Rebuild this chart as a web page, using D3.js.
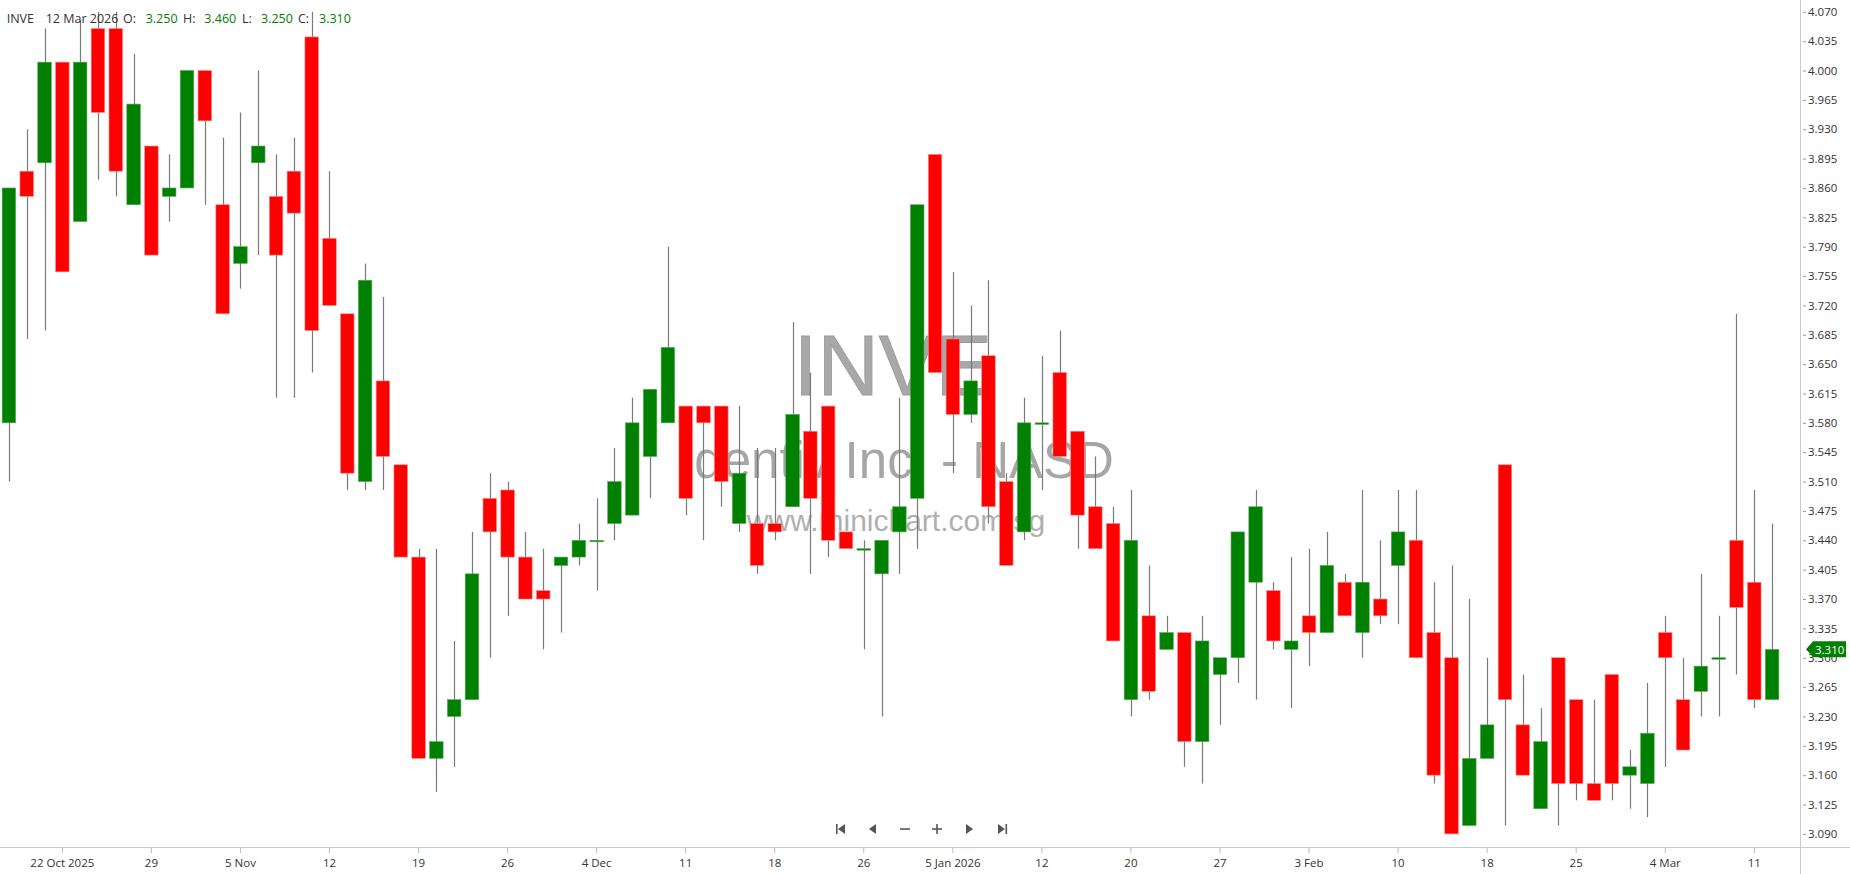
<!DOCTYPE html>
<html>
<head>
<meta charset="utf-8">
<script src="https://cdn.jsdelivr.net/npm/d3@7"></script>
<style>
  html, body { margin: 0; padding: 0; background: #fff; }
  svg { display: block; }
  text { font-family: "Open Sans", "Noto Sans", sans-serif; }
</style>
</head>
<body>
<script>
// ---- data ----
const symbol = "INVE";
const companyName = "Identiv Inc. - NASD";
const siteUrl = "www.minichart.com.sg";
const dates = [
  "2025-10-17",
  "2025-10-20","2025-10-21","2025-10-22","2025-10-23","2025-10-24",
  "2025-10-27","2025-10-28","2025-10-29","2025-10-30","2025-10-31",
  "2025-11-03","2025-11-04","2025-11-05","2025-11-06","2025-11-07",
  "2025-11-10","2025-11-11","2025-11-12","2025-11-13","2025-11-14",
  "2025-11-17","2025-11-18","2025-11-19","2025-11-20","2025-11-21",
  "2025-11-24","2025-11-25","2025-11-26","2025-11-28",
  "2025-12-01","2025-12-02","2025-12-03","2025-12-04","2025-12-05",
  "2025-12-08","2025-12-09","2025-12-10","2025-12-11","2025-12-12",
  "2025-12-15","2025-12-16","2025-12-17","2025-12-18","2025-12-19",
  "2025-12-22","2025-12-23","2025-12-24","2025-12-26",
  "2025-12-29","2025-12-30","2025-12-31","2026-01-02",
  "2026-01-05","2026-01-06","2026-01-07","2026-01-08","2026-01-09",
  "2026-01-12","2026-01-13","2026-01-14","2026-01-15","2026-01-16",
  "2026-01-20","2026-01-21","2026-01-22","2026-01-23",
  "2026-01-26","2026-01-27","2026-01-28","2026-01-29","2026-01-30",
  "2026-02-02","2026-02-03","2026-02-04","2026-02-05","2026-02-06",
  "2026-02-09","2026-02-10","2026-02-11","2026-02-12","2026-02-13",
  "2026-02-17","2026-02-18","2026-02-19","2026-02-20",
  "2026-02-23","2026-02-24","2026-02-25","2026-02-26","2026-02-27",
  "2026-03-02","2026-03-03","2026-03-04","2026-03-05","2026-03-06",
  "2026-03-09","2026-03-10","2026-03-11","2026-03-12"
];
const open = [
  3.58,3.88,3.89,4.01,3.82,4.05,4.05,3.84,3.91,3.85,
  3.86,4.00,3.84,3.77,3.89,3.85,3.88,4.04,3.80,3.71,
  3.51,3.63,3.53,3.42,3.18,3.23,3.25,3.49,3.50,3.42,
  3.38,3.41,3.42,3.44,3.46,3.47,3.54,3.58,3.60,3.60,
  3.60,3.46,3.46,3.46,3.48,3.57,3.60,3.45,3.43,3.40,
  3.45,3.49,3.90,3.68,3.59,3.66,3.51,3.45,3.58,3.64,
  3.57,3.48,3.46,3.25,3.35,3.31,3.33,3.20,3.28,3.30,
  3.39,3.38,3.31,3.35,3.33,3.39,3.33,3.37,3.41,3.44,
  3.33,3.30,3.10,3.18,3.53,3.22,3.12,3.30,3.25,3.15,
  3.28,3.16,3.15,3.33,3.25,3.26,3.30,3.44,3.39,3.25
];
const high = [
  3.86,3.93,4.05,4.01,4.06,4.07,4.07,4.02,3.91,3.90,
  4.00,4.00,3.92,3.95,4.00,3.90,3.92,4.07,3.88,3.71,
  3.77,3.73,3.53,3.43,3.43,3.32,3.45,3.52,3.51,3.45,
  3.43,3.42,3.46,3.49,3.55,3.61,3.62,3.79,3.60,3.60,
  3.60,3.60,3.55,3.55,3.70,3.64,3.60,3.45,3.44,3.44,
  3.61,3.84,3.90,3.76,3.72,3.75,3.52,3.61,3.66,3.69,
  3.57,3.54,3.48,3.50,3.41,3.35,3.33,3.35,3.30,3.45,
  3.50,3.39,3.42,3.43,3.45,3.40,3.50,3.44,3.50,3.50,
  3.39,3.41,3.37,3.30,3.53,3.28,3.24,3.30,3.25,3.25,
  3.28,3.19,3.27,3.35,3.30,3.40,3.35,3.71,3.50,3.46
];
const low = [
  3.51,3.68,3.69,3.76,3.82,3.87,3.85,3.84,3.78,3.82,
  3.86,3.84,3.71,3.74,3.78,3.61,3.61,3.64,3.72,3.50,
  3.50,3.50,3.42,3.18,3.14,3.17,3.25,3.30,3.35,3.37,
  3.31,3.33,3.41,3.38,3.44,3.47,3.49,3.58,3.47,3.44,
  3.48,3.45,3.40,3.44,3.48,3.40,3.42,3.43,3.31,3.23,
  3.40,3.43,3.64,3.52,3.58,3.46,3.41,3.44,3.50,3.54,
  3.43,3.43,3.32,3.23,3.25,3.31,3.17,3.15,3.22,3.27,
  3.25,3.31,3.24,3.29,3.33,3.35,3.30,3.34,3.34,3.30,
  3.15,3.09,3.10,3.18,3.10,3.16,3.12,3.10,3.13,3.13,
  3.13,3.12,3.11,3.17,3.19,3.23,3.23,3.28,3.24,3.25
];
const close = [
  3.86,3.85,4.01,3.76,4.01,3.95,3.88,3.96,3.78,3.86,
  4.00,3.94,3.71,3.79,3.91,3.78,3.83,3.69,3.72,3.52,
  3.75,3.54,3.42,3.18,3.20,3.25,3.40,3.45,3.42,3.37,
  3.37,3.42,3.44,3.44,3.51,3.58,3.62,3.67,3.49,3.58,
  3.51,3.52,3.41,3.45,3.59,3.49,3.44,3.43,3.43,3.44,
  3.48,3.84,3.64,3.59,3.63,3.48,3.41,3.58,3.58,3.54,
  3.47,3.43,3.32,3.44,3.26,3.33,3.20,3.32,3.30,3.45,
  3.48,3.32,3.32,3.33,3.41,3.35,3.39,3.35,3.45,3.30,
  3.16,3.09,3.18,3.22,3.25,3.16,3.20,3.15,3.15,3.13,
  3.15,3.17,3.21,3.30,3.19,3.29,3.30,3.36,3.25,3.31
];
const xTickIndex = [3,8,13,18,23,28,33,38,43,48,53,58,63,68,73,78,83,88,93,98];
const xTickLabels = ["22 Oct 2025","29","5 Nov","12","19","26","4 Dec","11","18","26",
                     "5 Jan 2026","12","20","27","3 Feb","10","18","25","4 Mar","11"];
const yTicks = [3.090,3.125,3.160,3.195,3.230,3.265,3.300,3.335,3.370,3.405,3.440,3.475,
                3.510,3.545,3.580,3.615,3.650,3.685,3.720,3.755,3.790,3.825,3.860,3.895,
                3.930,3.965,4.000,4.035,4.070];
const headerDate = "12 Mar 2026";

// ---- layout ----
const W = 1850, H = 874;
const plotRight = 1781, axisX = 1800, axisY = 847;
const UP = "#008000", DOWN = "#ff0000", WICK = "#7a7a7a";

const svg = d3.select("body").append("svg").attr("width", W).attr("height", H);

const x = d3.scaleBand().domain(dates).range([0, plotRight]).padding(0);
const y = d3.scaleLinear().domain([3.090, 4.070]).range([833.9, 11.8]);

const data = dates.map((d, i) => ({d, o: open[i], h: high[i], l: low[i], c: close[i]}));

// watermark
const cx = 893;
svg.append("text").attr("x", cx).attr("y", 395).attr("text-anchor", "middle")
  .style("font-family", "'Liberation Sans', Arial, sans-serif").style("font-size", "85px")
  .attr("fill", "#a8a8a8").attr("stroke", "#9a9a9a").attr("stroke-width", 0.8).text(symbol);
svg.append("text").attr("x", cx + 4).attr("y", 478).attr("text-anchor", "middle")
  .style("font-family", "'Liberation Sans', Arial, sans-serif").style("font-size", "51px")
  .attr("fill", "#a6a6a6").text(companyName);
svg.append("text").attr("x", cx + 3).attr("y", 531).attr("text-anchor", "middle")
  .style("font-family", "'Liberation Sans', Arial, sans-serif").style("font-size", "30px")
  .attr("fill", "#b0b0b0").text(siteUrl);

// axes lines
svg.append("line").attr("x1", 0).attr("x2", W).attr("y1", axisY + 0.5).attr("y2", axisY + 0.5)
  .attr("stroke", "#c8c8c8");
svg.append("line").attr("x1", axisX + 0.5).attr("x2", axisX + 0.5).attr("y1", 0).attr("y2", H)
  .attr("stroke", "#c8c8c8");

// candles
const bw = x.bandwidth() * 0.76;
const g = svg.append("g");
const cand = g.selectAll("g.c").data(data).join("g").attr("class", "c");
cand.append("line")
  .attr("x1", d => Math.round(x(d.d) + x.bandwidth() / 2) + 0.5)
  .attr("x2", d => Math.round(x(d.d) + x.bandwidth() / 2) + 0.5)
  .attr("y1", d => y(d.h)).attr("y2", d => y(d.l))
  .attr("stroke", WICK).attr("stroke-width", 1.2);
cand.append("rect")
  .attr("x", d => x(d.d) + (x.bandwidth() - bw) / 2)
  .attr("width", bw)
  .attr("y", d => y(Math.max(d.o, d.c)))
  .attr("height", d => Math.max(1.5, Math.abs(y(d.o) - y(d.c))))
  .attr("fill", d => d.c >= d.o ? UP : DOWN)
  .attr("stroke", d => d.c >= d.o ? "#5aa85a" : "#ff8a8a")
  .attr("stroke-width", 0.6);

// x axis
const xAxis = d3.axisBottom(x)
  .tickValues(xTickIndex.map(i => dates[i]))
  .tickFormat((d) => xTickLabels[xTickIndex.indexOf(dates.indexOf(d))])
  .tickSize(5).tickPadding(6);
const gx = svg.append("g").attr("transform", `translate(0,${axisY + 1})`).call(xAxis);
gx.select(".domain").remove();
gx.selectAll(".tick line").attr("stroke", "#bbb");
gx.selectAll(".tick text").attr("fill", "#333").style("font-size", "11.5px")
  .style("font-family", "'Open Sans', sans-serif");

// y axis
const yAxis = d3.axisRight(y).tickValues(yTicks).tickFormat(d3.format(".3f"))
  .tickSize(6).tickPadding(2);
const gy = svg.append("g").attr("transform", `translate(${axisX},0)`).call(yAxis);
gy.select(".domain").remove();
gy.selectAll(".tick line").attr("x1", 3).attr("stroke", "#999");
gy.selectAll(".tick text").attr("fill", "#333").style("font-size", "11.5px")
  .style("font-family", "'Open Sans', sans-serif");

// last price tag
const last = data[data.length - 1];
const ty = y(last.c);
svg.append("path")
  .attr("d", `M${axisX + 6},${ty} L${axisX + 13},${ty - 8} L${axisX + 46},${ty - 8} L${axisX + 46},${ty + 8} L${axisX + 13},${ty + 8} Z`)
  .attr("fill", UP);
svg.append("text").attr("x", axisX + 15).attr("y", ty + 4.2)
  .attr("fill", "#fff").style("font-size", "11.5px").text(d3.format(".3f")(last.c));

// header
const hdr = svg.append("g").style("font-size", "12.5px");
const fmt = d3.format(".3f");
const parts = [
  {x: 6.7, t: symbol, c: "#333"},
  {x: 45.7, t: headerDate, c: "#333"},
  {x: 123, t: "O:", c: "#333"},
  {x: 145.7, t: fmt(last.o), c: UP},
  {x: 183, t: "H:", c: "#333"},
  {x: 204.3, t: fmt(last.h), c: UP},
  {x: 242, t: "L:", c: "#333"},
  {x: 261, t: fmt(last.l), c: UP},
  {x: 298, t: "C:", c: "#333"},
  {x: 319, t: fmt(last.c), c: UP}
];
hdr.selectAll("text").data(parts).join("text")
  .attr("x", d => d.x).attr("y", 22.8).attr("fill", d => d.c).text(d => d.t);

// navigation buttons
const nav = svg.append("g").attr("fill", "#555").attr("stroke", "#555");
const ny = 829;
const nx = [841, 873, 905, 937, 969, 1002];
nav.append("rect").attr("x", nx[0] - 5).attr("y", ny - 5).attr("width", 1.6).attr("height", 10).attr("stroke", "none");
nav.append("path").attr("d", `M${nx[0] - 3},${ny} L${nx[0] + 4},${ny - 5} L${nx[0] + 4},${ny + 5} Z`).attr("stroke", "none");
nav.append("path").attr("d", `M${nx[1] - 4},${ny} L${nx[1] + 3},${ny - 5} L${nx[1] + 3},${ny + 5} Z`).attr("stroke", "none");
nav.append("line").attr("x1", nx[2] - 5).attr("x2", nx[2] + 5).attr("y1", ny).attr("y2", ny).attr("stroke-width", 1.6);
nav.append("line").attr("x1", nx[3] - 5).attr("x2", nx[3] + 5).attr("y1", ny).attr("y2", ny).attr("stroke-width", 1.6);
nav.append("line").attr("x1", nx[3]).attr("x2", nx[3]).attr("y1", ny - 5).attr("y2", ny + 5).attr("stroke-width", 1.6);
nav.append("path").attr("d", `M${nx[4] + 4},${ny} L${nx[4] - 3},${ny - 5} L${nx[4] - 3},${ny + 5} Z`).attr("stroke", "none");
nav.append("path").attr("d", `M${nx[5] + 3},${ny} L${nx[5] - 4},${ny - 5} L${nx[5] - 4},${ny + 5} Z`).attr("stroke", "none");
nav.append("rect").attr("x", nx[5] + 3.5).attr("y", ny - 5).attr("width", 1.6).attr("height", 10).attr("stroke", "none");
</script>
</body>
</html>
